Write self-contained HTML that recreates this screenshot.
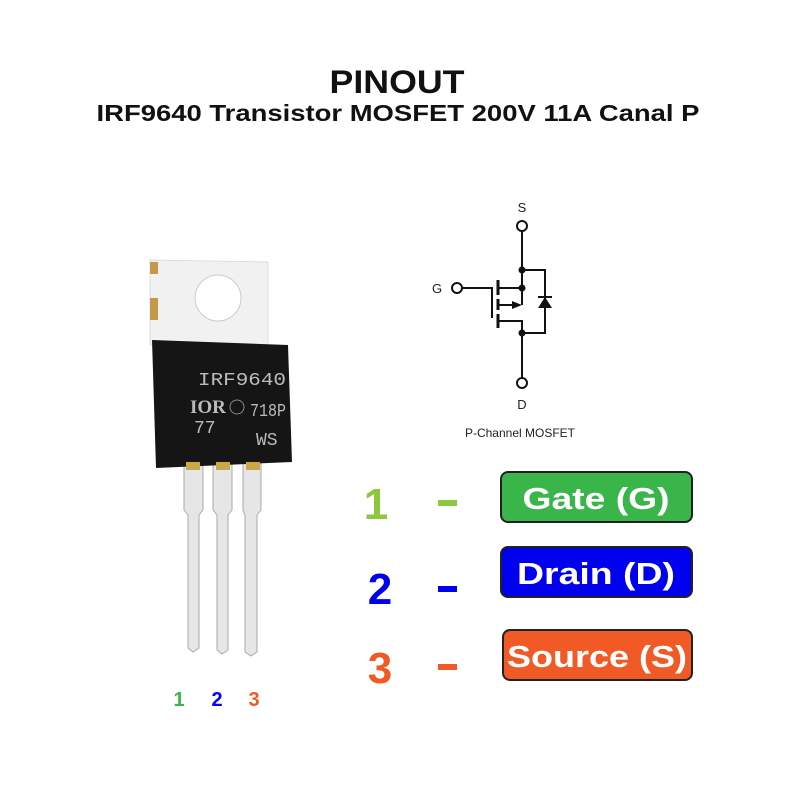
<!DOCTYPE html>
<html><head><meta charset="utf-8"><style>
html,body{margin:0;padding:0;background:#fff;}
svg{display:block;}
</style></head><body>
<svg width="800" height="800" viewBox="0 0 800 800" xmlns="http://www.w3.org/2000/svg">
<rect width="800" height="800" fill="#fff"/>
<g font-family="Liberation Sans, sans-serif" font-weight="bold" text-anchor="middle" fill="#111">
<text x="397" y="93" font-size="32" textLength="135" lengthAdjust="spacingAndGlyphs">PINOUT</text>
<text x="398" y="121" font-size="23" textLength="603" lengthAdjust="spacingAndGlyphs">IRF9640 Transistor MOSFET 200V 11A Canal P</text>
</g>
<!-- transistor tab -->
<path d="M150 260 L268 262 L268 345 L150 345 Z" fill="#f1f1f1" stroke="#ddd"/>
<rect x="150" y="262" width="8" height="12" fill="#c49a4a"/>
<rect x="150" y="298" width="8" height="22" fill="#c49a4a"/>
<circle cx="218" cy="298" r="23" fill="#fff" stroke="#ccc"/>
<!-- legs -->
<g fill="#e6e6e6" stroke="#aaa" stroke-width="1">
<path d="M184 462 H203 V510 L199 515 V648 L193 652 L188 648 V515 L184 510 Z"/>
<path d="M213 462 H232 V510 L228 515 V650 L222 654 L217 650 V515 L213 510 Z"/>
<path d="M243 462 H261 V510 L257 515 V652 L251 656 L245 652 V515 L243 510 Z"/>
</g>
<!-- body -->
<path d="M152 340 L288 345 L292 462 L156 468 Z" fill="#151515"/>
<rect x="186" y="462" width="14" height="8" fill="#c9a84a"/>
<rect x="216" y="462" width="14" height="8" fill="#c9a84a"/>
<rect x="246" y="462" width="14" height="8" fill="#c9a84a"/>
<g font-family="Liberation Mono, monospace" fill="#bbb" font-size="18">
<text x="198" y="385" textLength="88" lengthAdjust="spacingAndGlyphs">IRF9640</text>
<text x="250" y="416" textLength="36" lengthAdjust="spacingAndGlyphs">718P</text>
<text x="194" y="433">77</text>
<text x="256" y="445">WS</text>
</g>
<text x="190" y="413" font-family="Liberation Serif, serif" font-weight="bold" font-size="19" fill="#bbb">IOR</text>
<circle cx="237" cy="407" r="7" fill="none" stroke="#888"/>
<g font-family="Liberation Sans, sans-serif" font-weight="bold" font-size="20" text-anchor="middle">
<text x="179" y="706" fill="#39b54a">1</text>
<text x="217" y="706" fill="#0000ff">2</text>
<text x="254" y="706" fill="#f15a24">3</text>
</g>
<!-- schematic -->
<g stroke="#111" stroke-width="2" fill="none">
<circle cx="522" cy="226" r="5" fill="#fff"/>
<circle cx="457" cy="288" r="5" fill="#fff"/>
<circle cx="522" cy="383" r="5" fill="#fff"/>
<line x1="522" y1="231" x2="522" y2="305"/>
<line x1="522" y1="320" x2="522" y2="378"/>
<polyline points="522,270 545,270 545,333 522,333"/>
<polyline points="462,288 492,288 492,318"/>
<line x1="498" y1="280" x2="498" y2="295" stroke-width="3"/>
<line x1="498" y1="299" x2="498" y2="310" stroke-width="3"/>
<line x1="498" y1="314" x2="498" y2="328" stroke-width="3"/>
<line x1="498" y1="288" x2="522" y2="288"/>
<line x1="498" y1="305" x2="514" y2="305"/>
<polyline points="498,321 522,321"/>
<line x1="538" y1="297" x2="552" y2="297"/>
</g>
<polygon points="512,301 522,305 512,309" fill="#111"/>
<polygon points="545,297 538,308 552,308" fill="#111"/>
<g fill="#111"><circle cx="522" cy="270" r="3.5"/><circle cx="522" cy="288" r="3.5"/><circle cx="522" cy="333" r="3.5"/></g>
<g font-family="Liberation Sans, sans-serif" font-size="13" fill="#222" text-anchor="middle">
<text x="522" y="212">S</text>
<text x="437" y="293">G</text>
<text x="522" y="409">D</text>
<text x="520" y="437" font-size="12">P-Channel MOSFET</text>
</g>
<!-- pin list -->
<g font-family="Liberation Sans, sans-serif" font-weight="bold" text-anchor="middle">
<text x="376" y="519" font-size="44" fill="#8dc63f">1</text>
<rect x="438" y="500" width="19" height="6" fill="#8dc63f"/>
<text x="380" y="604" font-size="44" fill="#0000ee">2</text>
<rect x="438" y="586" width="19" height="6" fill="#0000ee"/>
<text x="380" y="683" font-size="44" fill="#f15a24">3</text>
<rect x="438" y="664" width="19" height="6" fill="#f15a24"/>
<rect x="501" y="472" width="191" height="50" rx="7" fill="#39b54a" stroke="#222" stroke-width="2"/>
<rect x="501" y="547" width="191" height="50" rx="7" fill="#0000ee" stroke="#222" stroke-width="2"/>
<rect x="503" y="630" width="189" height="50" rx="7" fill="#f15a24" stroke="#222" stroke-width="2"/>
<g fill="#fff" font-size="31">
<text x="596" y="509" textLength="147" lengthAdjust="spacingAndGlyphs">Gate (G)</text>
<text x="596" y="584" textLength="158" lengthAdjust="spacingAndGlyphs">Drain (D)</text>
<text x="597" y="667" textLength="180" lengthAdjust="spacingAndGlyphs">Source (S)</text>
</g>
</g>
</svg>
</body></html>
